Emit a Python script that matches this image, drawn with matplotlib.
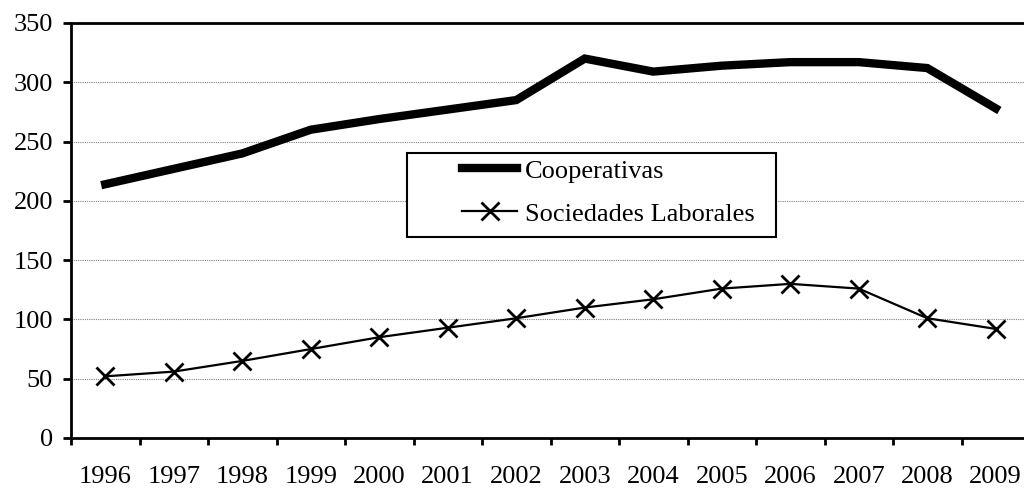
import matplotlib.pyplot as plt
from matplotlib.patches import Rectangle
import numpy as np

plt.rcParams['font.family'] = ['Liberation Serif', 'DejaVu Serif']

anios = ["1996", "1997", "1998", "1999", "2000", "2001", "2002",
         "2003", "2004", "2005", "2006", "2007", "2008", "2009"]
cooperativas = [214, 227, 240, 260, 269, 277, 285, 320, 309, 314, 317, 317, 312, 278]
sociedades = [52, 56, 65, 75, 85, 93, 101, 110, 117, 126, 130, 126, 101, 92]

fig = plt.figure(figsize=(10.24, 4.9), dpi=100)
ax = fig.add_axes([71 / 1024, 1 - 438 / 490, 959 / 1024, 415 / 490])

x = np.arange(len(anios))
ax.plot(x, cooperativas, color="black", linewidth=6, solid_joinstyle="miter",
        label="Cooperativas")
ax.plot(x, sociedades, color="black", linewidth=1.6, marker="x", markersize=13,
        markeredgewidth=2, label="Sociedades Laborales")

ax.set_xlim(-0.5, len(anios) - 0.5)
ax.set_ylim(0, 350)
ax.set_yticks(range(0, 351, 50))
ax.set_xticks(x)
ax.set_xticklabels(anios)
ax.set_xticks(np.arange(-0.5, len(anios), 1), minor=True)
ax.tick_params(axis="x", which="major", length=0, pad=20, labelsize=19)
ax.tick_params(axis="x", which="minor", length=5, width=2, direction="out")
ax.tick_params(axis="y", length=6, width=2, direction="out", labelsize=19, pad=7)

ax.yaxis.grid(True, color="gray", linestyle=(0, (1, 1)), linewidth=0.8)
ax.set_axisbelow(True)
for lado in ["left", "bottom", "top", "right"]:
    ax.spines[lado].set_linewidth(2)

# caja de la leyenda
caja = Rectangle((0.3504, 0.484), 0.735 - 0.3504, 0.687 - 0.484,
                 transform=ax.transAxes, facecolor="white", edgecolor="black",
                 linewidth=1.5, zorder=4)
ax.add_patch(caja)

leg = ax.legend(loc="upper left", bbox_to_anchor=(0.4077, 0.672), fontsize=19,
                frameon=False, borderpad=0, handlelength=2.1,
                handletextpad=0.3, borderaxespad=0, labelspacing=0.74)
leg.set_zorder(5)

plt.savefig("out.png", dpi=100)
